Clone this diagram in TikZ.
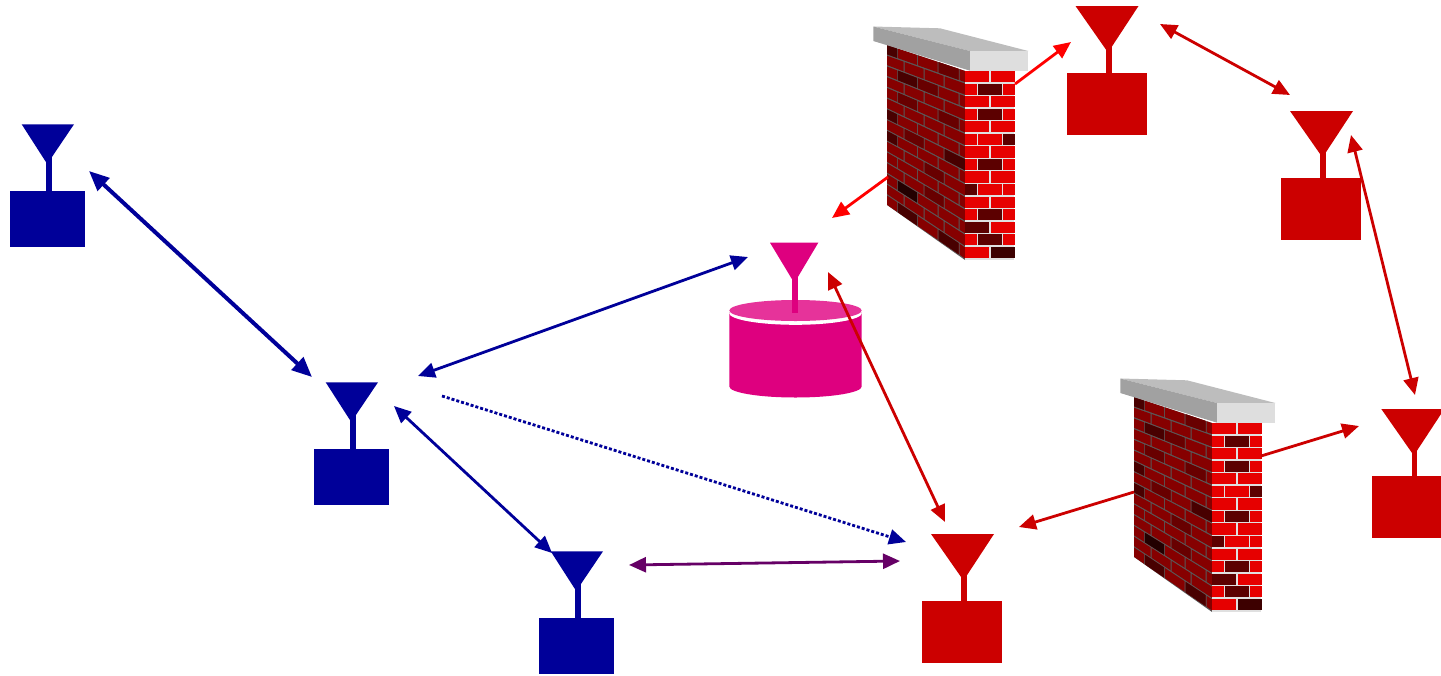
\documentclass[tikz,border=0pt]{standalone}
\usetikzlibrary{arrows.meta}
\definecolor{netblue}{HTML}{000099}
\definecolor{netred}{HTML}{CC0000}
\definecolor{netpink}{HTML}{DE007F}
\definecolor{pinktop}{HTML}{E6339A}
\definecolor{netpurple}{HTML}{660066}
\definecolor{bright}{HTML}{FF0000}
\definecolor{brickfront}{HTML}{E60000}
\definecolor{brickdark}{HTML}{5C0000}
\definecolor{brickdeep}{HTML}{3D0000}
\definecolor{brickside}{HTML}{860000}
\definecolor{sidemid}{HTML}{680000}
\definecolor{sidedark}{HTML}{480000}
\definecolor{sidedeep}{HTML}{220000}
\newcommand\lbrick[4]{%
  \pgfmathsetmacro\Ltop{45+10.75*#1}%
  \pgfmathsetmacro\Rtop{71+12.6*#1}%
  \pgfmathsetmacro\Lbot{\Ltop+9.3}%
  \pgfmathsetmacro\Rbot{\Rtop+11.1}%
  \pgfmathsetmacro\ya{\Ltop+(\Rtop-\Ltop)*#2/78}%
  \pgfmathsetmacro\yb{\Ltop+(\Rtop-\Ltop)*#3/78}%
  \pgfmathsetmacro\yc{\Lbot+(\Rbot-\Lbot)*#3/78}%
  \pgfmathsetmacro\yd{\Lbot+(\Rbot-\Lbot)*#2/78}%
  \fill[#4] ({887+#2},\ya) -- ({887+#3},\yb) -- ({887+#3},\yc) -- ({887+#2},\yd) -- cycle;}
\newcommand\fbrick[4]{%
  \pgfmathsetmacro\ya{71+12.55*#1}%
  \fill[#4] ({965+#2},\ya) rectangle ({965+#3},\ya+11.2);}
\tikzset{
  x=1pt,y=-1pt,
  wire/.style={line width=2.8pt,{Triangle[length=17pt,width=15pt]}-{Triangle[length=17pt,width=15pt]}},
  thickwire/.style={line width=4pt,{Triangle[length=20pt,width=17pt]}-{Triangle[length=20pt,width=17pt]}},
  oneway/.style={line width=2.8pt,-{Triangle[length=17pt,width=15pt]}},
  bluestation/.pic={
    \fill[netblue] (0,0) rectangle (75,56.3);
    \fill[netblue] (11.7,-66.7) -- (64,-66.7) -- (37.2,-27) -- cycle;
    \fill[netblue] (36.3,-40) rectangle (42,0);
  },
  redstation/.pic={
    \fill[netred] (0,0) rectangle (80,62);
    \fill[netred] (9,-67) -- (72,-67) -- (41.5,-20.5) -- cycle;
    \fill[netred] (39.3,-30) rectangle (45,0);
  },
  brickwall/.pic={
    % side face
    \fill[black!65] (887,45) -- (965,71) -- (965,260) -- (887,205) -- cycle;
    \foreach \k in {0,2,...,14}{
      \lbrick{\k}{0}{10}{brickside}
      \lbrick{\k}{10.8}{30}{brickside}
      \lbrick{\k}{31}{50.7}{brickside}
      \lbrick{\k}{51.7}{71.7}{brickside}
      \lbrick{\k}{72.7}{78}{brickside}
    }
    \foreach \k in {1,3,...,13}{
      \lbrick{\k}{0}{16.5}{brickside}
      \lbrick{\k}{17.5}{36.7}{brickside}
      \lbrick{\k}{37.7}{56.7}{brickside}
      \lbrick{\k}{57.7}{78}{brickside}
    }
    \lbrick{0}{0}{10}{sidedark}
    \lbrick{0}{51.7}{71.7}{sidemid}
    \lbrick{2}{10.8}{30}{sidedark}
    \lbrick{2}{31}{50.7}{sidemid}
    \lbrick{4}{10.8}{30}{sidemid}
    \lbrick{4}{51.7}{71.7}{sidemid}
    \lbrick{6}{0}{10}{sidedark}
    \lbrick{7}{17.5}{36.7}{sidemid}
    \lbrick{7}{57.7}{78}{sidedark}
    \lbrick{8}{0}{10}{sidedark}
    \lbrick{9}{37.7}{56.7}{sidemid}
    \lbrick{11}{37.7}{56.7}{sidemid}
    \lbrick{12}{10.8}{30}{sidedeep}
    \lbrick{14}{10.8}{30}{sidedark}
    \lbrick{14}{51.7}{71.7}{sidedark}
    % front face
    \fill[black!12] (965,71) rectangle (1014,260);
    \foreach \k in {0,2,4,6,8,10,14}{
      \fbrick{\k}{0}{24}{brickfront}
      \fbrick{\k}{25.5}{49.5}{brickfront}
    }
    \foreach \k in {1,3,5,7,11,13}{
      \fbrick{\k}{0}{11.5}{brickfront}
      \fbrick{\k}{12.5}{36.5}{brickdark}
      \fbrick{\k}{37.5}{49.5}{brickfront}
    }
    \fbrick{5}{12.5}{36.5}{brickfront}
    \fbrick{5}{37.5}{49.5}{brickdark}
    \fbrick{9}{0}{12}{brickdark}
    \fbrick{9}{13}{37}{brickfront}
    \fbrick{9}{38}{50}{brickfront}
    \fbrick{12}{0}{24}{brickdark}
    \fbrick{12}{25.5}{49.5}{brickfront}
    \fbrick{14}{25.5}{49.5}{brickdeep}
    % cap
    \fill[black!26] (873.3,26.5) -- (940,28.3) -- (1028.3,51) -- (970,51) -- cycle;
    \fill[black!37] (873.3,26.5) -- (970,51) -- (970,70.7) -- (873.3,41) -- cycle;
    \fill[black!13] (970,51) rectangle (1028.3,70.7);
  },
}
\begin{document}
\begin{tikzpicture}[x=1pt,y=-1pt]
\useasboundingbox (0,0) rectangle (1441,675);

% Firewalls
\pic at (0,0) {brickwall};
\pic at (247,352) {brickwall};

% Blue stations
\pic at (10,191) {bluestation};
\pic at (314,449) {bluestation};
\pic at (539,618) {bluestation};

% Red stations
\pic at (922,601) {redstation};
\pic at (1066.5,73) {redstation};
\pic at (1281,178) {redstation};
\pic at (1372.3,476) {redstation};

% Pink station
\fill[netpink] (729.3,312) -- (729.3,386.5) arc[start angle=180,end angle=0,x radius=66.2,y radius=11] -- (861.7,312) -- cycle;
\fill[white] (795.5,313) ellipse[x radius=66.4,y radius=11.8];
\fill[pinktop] (795.5,310.5) ellipse[x radius=66.2,y radius=10.5];
\fill[netpink] (770,242.7) -- (818.3,242.7) -- (794.3,283) -- cycle;
\fill[netpink] (792.3,270) rectangle (798.3,312.7);

% Connector ends
\coordinate (b1) at (89,171);
\coordinate (b2) at (312,377);
\coordinate (b3) at (418,376);
\coordinate (p1) at (748,257);
\coordinate (b4) at (394,406);
\coordinate (c1) at (552,553);
\coordinate (b5) at (442,396);
\coordinate (r1) at (906,542);
\coordinate (c2) at (629,565);
\coordinate (r2) at (900,561);
\coordinate (p2) at (828,272);
\coordinate (r3) at (945,522);
\coordinate (t1) at (1160,24);
\coordinate (t2) at (1290,95);
\coordinate (t3) at (1351,135);
\coordinate (t4) at (1415,395);
\coordinate (wa) at (1015,84);
\coordinate (t5) at (1071,42);
\coordinate (wb) at (888,177);
\coordinate (p3) at (832,218);
\coordinate (wc) at (1261,456);
\coordinate (t6) at (1359,426);
\coordinate (wd) at (1134,492);
\coordinate (r4) at (1019,527);

% Connectors
\draw[thickwire,netblue] (b1) -- (b2);
\draw[wire,netblue] (b3) -- (p1);
\draw[wire,netblue] (b4) -- (c1);
\draw[oneway,netblue,dash pattern=on 3pt off 2pt] (b5) -- (r1);
\draw[wire,netpurple] (c2) -- (r2);
\draw[wire,netred] (p2) -- (r3);
\draw[wire,netred] (t1) -- (t2);
\draw[wire,netred] (t3) -- (t4);
\draw[oneway,bright] (wa) -- (t5);
\draw[oneway,bright] (wb) -- (p3);
\draw[oneway,netred] (wc) -- (t6);
\draw[oneway,netred] (wd) -- (r4);
\end{tikzpicture}
\end{document}
